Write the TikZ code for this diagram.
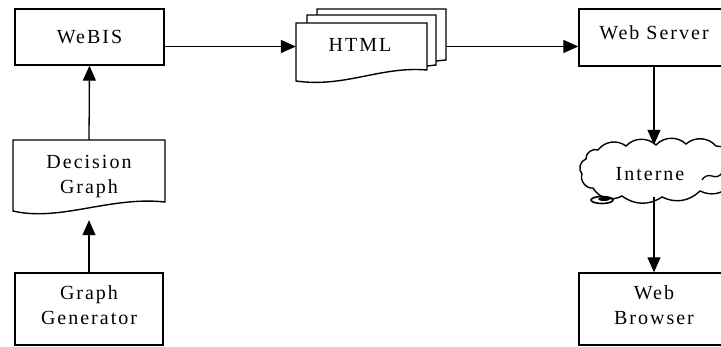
\documentclass[tikz,border=0pt]{standalone}
\usepackage{fontspec}
\setmainfont{Liberation Serif}[LetterSpace=10]
\usetikzlibrary{arrows.meta}
\tikzset{
  box/.style={draw, line width=1.4pt, inner sep=0pt, align=center},
  ghost/.style={inner sep=0pt, align=center},
  conn/.style={line width=1.3pt, -{Triangle[length=15pt,width=13pt]}},
  page/.style={draw, line width=1.4pt, fill=white},
  lbl/.style={font=\fontsize{20}{25}\selectfont, align=center}
}
\begin{document}
\begin{tikzpicture}[x=1pt,y=-1pt]
\useasboundingbox (0,0) rectangle (721,347);
\clip (0,0) rectangle (721,347);
% WeBIS
\node[box, lbl, minimum width=149pt, minimum height=56pt] (webis) at (89.5,37) {WeBIS};
% HTML stack
\draw[page] (317,9) -- (446,9) -- (446,60) -- (436,61) -- (317,61) -- cycle;
\draw[page] (307,15) -- (436,15) -- (436,65) -- (427,66) -- (307,66) -- cycle;
\draw[page] (296,23) -- (427,23) -- (427,70) .. controls (380,66) and (345,88) .. (296,81) -- cycle;
\node[ghost, minimum width=131pt, minimum height=47pt] (htmlf) at (361.5,46.5) {};
\node[ghost, minimum width=129pt, minimum height=51pt] (html3) at (381.5,34.5) {};
\node[lbl] (htmltxt) at (360,45) {HTML};
% Web Server
\node[box, lbl, minimum width=150pt, minimum height=57pt] (server) at (654,37.5) {};
\node[lbl] (servertxt) at (654,33) {Web Server};
% Cloud
\draw[line width=1.4pt, fill=white]
  (598,150) to[bend left=45] (626,146) to[bend left=45] (656,145) to[bend left=45] (686,144)
  to[bend left=45] (716,146) to[bend left=45] (730,158) -- (730,186)
  to[bend left=35] (700,191) to[bend left=35] (662,197) to[bend left=35] (622,196)
  to[bend left=45] (593,188) to[bend left=60] (582,174) to[bend left=60] (586,159)
  to[bend left=60] (598,150) -- cycle;
\draw[line width=1.3pt] (702,180) to[bend left=40] (712,176) to[bend right=40] (722,173);
\draw[line width=1.6pt] (602,200) ellipse[x radius=11pt, y radius=3.5pt];
\fill (604,199) ellipse[x radius=6pt, y radius=2pt];
\node[ghost, minimum width=140pt, minimum height=52pt] (inet) at (654,171) {};
\node[lbl] (inettxt) at (650,174) {Interne};
% Web Browser
\node[box, minimum width=150pt, minimum height=72pt] (browser) at (654,309) {};
\node[lbl] (browsertxt) at (654,305) {Web\\Browser};
% Decision Graph
\draw[page] (13,140) -- (165,140) -- (165,202) .. controls (110,196) and (60,222) .. (13,211) -- cycle;
\node[ghost, minimum width=152pt, minimum height=80pt] (dec) at (89,180) {};
\node[lbl] (dectxt) at (89,177) {Decision\\Graph};
% Graph Generator
\node[box, minimum width=148pt, minimum height=72pt] (gen) at (89,309) {};
\node[lbl] (gentxt) at (89,305) {Graph\\Generator};
% connectors
\draw[conn] (gen.north) -- (dec.south);
\draw[conn] (dec.north) -- (webis.south);
\draw[conn] (webis.east |- htmlf.center) -- (htmlf.west);
\draw[conn] (htmlf.center -| html3.east) -- (htmlf.center -| server.west);
\draw[conn] (server.south) -- (inet.north);
\draw[conn] (inet.south) -- (browser.north);
\end{tikzpicture}
\end{document}
